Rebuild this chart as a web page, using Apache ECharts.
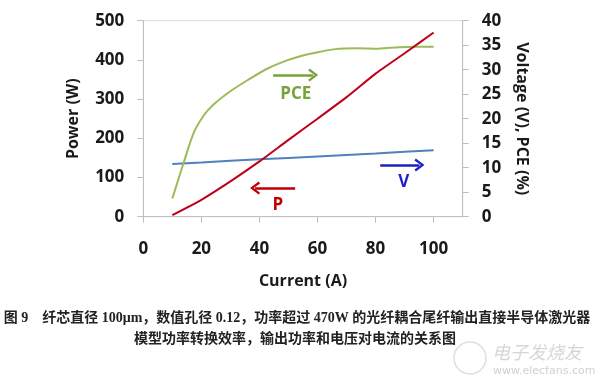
<!DOCTYPE html>
<html>
<head>
<meta charset="utf-8">
<script src="https://cdn.jsdelivr.net/npm/echarts@6/dist/echarts.min.js"></script>
<style>
html,body{margin:0;padding:0;background:#fff;}
#chart{width:600px;height:390px;}
</style>
</head>
<body>
<div id="chart"></div>
<script>
// ---- Data ----
const powerCurrent = [10, 20, 30, 40, 50, 60, 70, 80, 90, 100];
const powerValues  = [4, 43, 90, 141, 196, 250, 305, 365, 417, 470];          // W (left axis)

const voltageCurrent = [10, 20, 30, 40, 50, 60, 70, 80, 90, 100];
const voltageValues  = [10.75, 11.05, 11.4, 11.7, 12.0, 12.3, 12.6, 12.9, 13.25, 13.55]; // V (right axis)

const pceCurrent = [10, 14, 17.5, 21, 24, 29, 36, 43, 50, 55, 58, 66, 74, 81, 88, 94, 100];
const pceValues  = [3.7, 11.2, 17.3, 20.8, 22.8, 25.2, 27.9, 30.3, 32.0, 32.9, 33.3, 34.2, 34.4, 34.3, 34.6, 34.7, 34.7]; // % (right axis)

const xTicks = [0, 20, 40, 60, 80, 100];
const leftTicks = [0, 100, 200, 300, 400, 500];
const rightTicks = [0, 5, 10, 15, 20, 25, 30, 35, 40];

// annotation arrows / labels in data units
const pceArrow = [[44.7, 28.9], [58.5, 28.9]];
const pceLabel = [52.5, 25.0];
const powerArrow = [[52.3, 73], [38.5, 73]];
const powerLabel = [46.3, 28.6];
const voltArrow = [[81.6, 10.55], [95.1, 10.55]];
const voltLabel = [89.7, 7.1];

const caption1 = '图 9\u3000纤芯直径 100μm，数值孔径 0.12，功率超过 470W 的光纤耦合尾纤输出直接半导体激光器';
const caption2 = '模型功率转换效率，输出功率和电压对电流的关系图';

// ---- Build ----
const zip = (xs, ys) => xs.map((x, i) => [x, ys[i]]);
const chevron = 'path://M0,12 L10,0 L20,12 L17,14 L10,5 L3,14 Z';
const FONT = '"Open Sans", "DejaVu Sans", sans-serif';
const CJK = '"Liberation Serif", "Noto Sans CJK SC", serif';

function arrowLine(pts, color) {
  return {
    silent: true,
    symbol: ['none', chevron],
    symbolSize: [13, 10],
    label: { show: false },
    lineStyle: { color: color, width: 2.5, type: 'solid' },
    emphasis: { disabled: true },
    data: [[{ coord: pts[0] }, { coord: pts[1] }]]
  };
}
function textPoint(pt, text, color) {
  return {
    silent: true,
    symbol: 'rect',
    symbolSize: 1,
    itemStyle: { color: 'rgba(0,0,0,0)' },
    label: { show: true, position: 'inside', formatter: text, color: color,
             fontSize: 17, fontWeight: 'bold', fontFamily: FONT },
    emphasis: { disabled: true },
    data: [{ coord: pt }]
  };
}

const axisLabelStyle = { fontSize: 17, fontWeight: 'bold', fontFamily: FONT, color: '#1a1a1a' };
const axisNameStyle = { fontSize: 16, fontWeight: 'bold', fontFamily: FONT, color: '#1a1a1a' };
const grayLine = { show: true, lineStyle: { color: '#bfbfbf', width: 1 } };

const chart = echarts.init(document.getElementById('chart'), null, { renderer: 'canvas' });
chart.setOption({
  animation: false,
  backgroundColor: '#fff',
  grid: {
    left: 143.3, right: 137.3, top: 20.7, bottom: 173.3,
    show: true, borderColor: '#d9d9d9', borderWidth: 1, containLabel: false
  },
  xAxis: {
    type: 'value', min: xTicks[0], max: 110, interval: 20,
    name: 'Current (A)', nameLocation: 'middle', nameGap: 57,
    nameTextStyle: axisNameStyle,
    axisLine: grayLine,
    axisTick: { show: true, length: 6, lineStyle: { color: '#bfbfbf' } },
    axisLabel: Object.assign({ margin: 24, showMaxLabel: false,
      formatter: v => (xTicks.indexOf(v) >= 0 ? String(v) : '') }, axisLabelStyle),
    splitLine: { show: false }
  },
  yAxis: [
    {
      type: 'value', min: leftTicks[0], max: leftTicks[leftTicks.length - 1], interval: 100,
      position: 'left',
      name: 'Power (W)', nameLocation: 'middle', nameGap: 62, nameRotate: 90,
      nameTextStyle: axisNameStyle,
      axisLine: grayLine,
      axisTick: { show: true, length: 6, lineStyle: { color: '#bfbfbf' } },
      axisLabel: Object.assign({ margin: 19 }, axisLabelStyle),
      splitLine: { show: false }
    },
    {
      type: 'value', min: rightTicks[0], max: rightTicks[rightTicks.length - 1], interval: 5,
      position: 'right',
      name: 'Voltage (V), PCE (%)', nameLocation: 'middle', nameGap: 51, nameRotate: -90,
      nameTextStyle: axisNameStyle,
      axisLine: grayLine,
      axisTick: { show: true, length: 6, lineStyle: { color: '#bfbfbf' } },
      axisLabel: Object.assign({ margin: 19 }, axisLabelStyle),
      splitLine: { show: false }
    }
  ],
  series: [
    {
      name: 'V', type: 'line', yAxisIndex: 1, data: zip(voltageCurrent, voltageValues),
      showSymbol: false, lineStyle: { color: '#4f81bd', width: 2 }, itemStyle: { color: '#4f81bd' },
      z: 2,
      markLine: arrowLine(voltArrow, '#1f1fc8'),
      markPoint: textPoint(voltLabel, 'V', '#1f1fc8')
    },
    {
      name: 'PCE', type: 'line', yAxisIndex: 1, data: zip(pceCurrent, pceValues),
      showSymbol: false, smooth: 0.3, lineStyle: { color: '#9bbb59', width: 2 }, itemStyle: { color: '#9bbb59' },
      z: 3,
      markLine: arrowLine(pceArrow, '#77a33a'),
      markPoint: textPoint(pceLabel, 'PCE', '#77a33a')
    },
    {
      name: 'P', type: 'line', yAxisIndex: 0, data: zip(powerCurrent, powerValues),
      showSymbol: false, smooth: 0.2, lineStyle: { color: '#c0001a', width: 2 }, itemStyle: { color: '#c0001a' },
      z: 4,
      markLine: arrowLine(powerArrow, '#c00000'),
      markPoint: textPoint(powerLabel, 'P', '#c00000')
    }
  ],
  graphic: [
    { type: 'text', silent: true, style: { text: caption1, x: 297, y: 318, align: 'center', verticalAlign: 'middle',
        fill: '#222', font: 'bold 14px ' + CJK } },
    { type: 'text', silent: true, style: { text: caption2, x: 295, y: 339, align: 'center', verticalAlign: 'middle',
        fill: '#222', font: 'bold 14px ' + CJK } },
    { type: 'circle', silent: true, shape: { cx: 470, cy: 358, r: 16 }, style: { fill: 'none', stroke: '#dedede', lineWidth: 1.5 } },
    { type: 'text', silent: true, style: { text: '电子发烧友', x: 492, y: 343, fill: '#d6d6d6', font: 'italic 18px "Noto Sans CJK SC"' } },
    { type: 'text', silent: true, style: { text: 'www.elecfans.com', x: 493, y: 366, fill: '#d0d0d0', font: '11px "DejaVu Sans"' } }
  ]
});
</script>
</body>
</html>
